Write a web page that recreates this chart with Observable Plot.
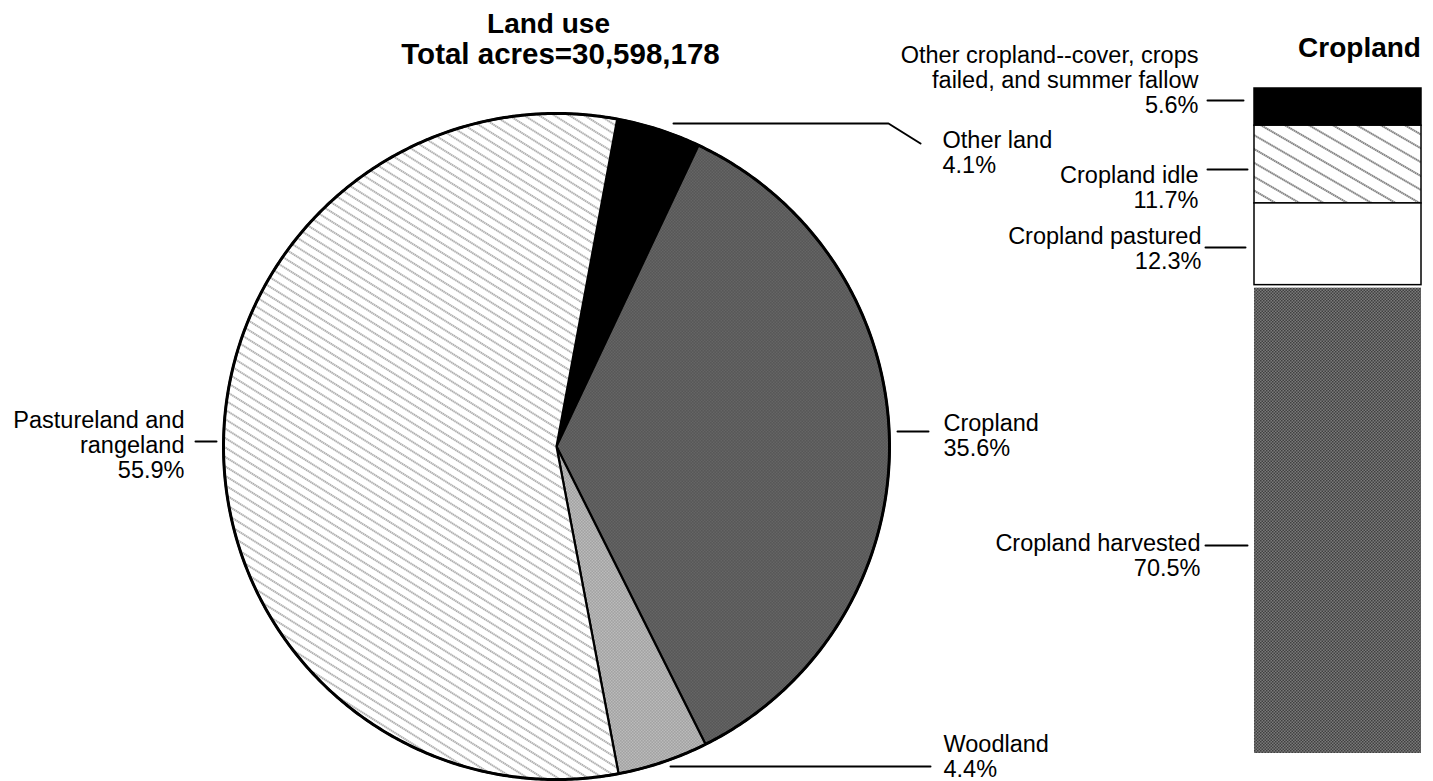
<!DOCTYPE html>
<html><head><meta charset="utf-8">
<script src="https://cdn.jsdelivr.net/npm/d3@7"></script>
<script src="https://cdn.jsdelivr.net/npm/@observablehq/plot@0.6"></script>
<style>
html,body{margin:0;padding:0;background:#fff;}
#chart{position:relative;width:1433px;height:781px;background:#fff;}
#chart svg{position:absolute;left:0;top:0;}
</style></head><body><div id="chart"></div>
<script>
// ---------------- data ----------------
const landTitle = "Land use";
const landSubtitle = "Total acres=30,598,178";
const landCategories = ["Other land", "Cropland", "Woodland", "Pastureland and rangeland"];
const landPercents = [4.1, 35.6, 4.4, 55.9];
const croplandTitle = "Cropland";
const croplandCategories = ["Other cropland--cover, crops failed, and summer fallow", "Cropland idle", "Cropland pastured", "Cropland harvested"];
const croplandPercents = [5.6, 11.7, 12.3, 70.5];

// ---------------- layout / style ----------------
const W = 1433, H = 781;
const cx = 556, cy = 446, r = 333;          // pie placement (px)
const startDeg = 10.5;                        // rotation of first slice
const LH = 25;                                // label line height (px)
const FS = 23.5;                              // label font size
const FONT = "'Liberation Sans', Arial, Helvetica, sans-serif";
const landFills = ["black", "url(#darkDots)", "url(#lightDots)", "url(#hatchPie)"];
const cropFills = ["black", "url(#hatchBar)", "white", "url(#darkDots)"];
const barX = [1254, 1421], barY = [88, 753];

// label placement: x, baseline of first line, anchor, words on first line (0 = no wrap)
const landLabelLayout = [
  {x: 942, y: 147, anchor: "start", wrap: 0},
  {x: 943, y: 430, anchor: "start", wrap: 0},
  {x: 943, y: 751, anchor: "start", wrap: 0},
  {x: 184, y: 427, anchor: "end", wrap: 2}
];
const cropLabelLayout = [
  {x: 1198, y: 62, anchor: "end", wrap: 3},
  {x: 1198, y: 182, anchor: "end", wrap: 0},
  {x: 1201, y: 243, anchor: "end", wrap: 0},
  {x: 1200, y: 550, anchor: "end", wrap: 0}
];
const leaderLayout = [
  [[673,123],[888,123],[920,143]],
  [[897,431],[928,431]],
  [[670,766],[930,766]],
  [[195,441],[216,441]],
  [[1207,100],[1243,100]],
  [[1207,169],[1247,169]],
  [[1205,247],[1245,247]],
  [[1205,545],[1247,545]]
];
const titleLayout = [
  {x: 548, y: 32, size: 28},
  {x: 560, y: 63, size: 29.5},
  {x: 1359, y: 56, size: 28}
];

// ---------------- helpers ----------------
const ux = px => (px - cx) / r;
const uy = py => (cy - py) / r;
function wrapLabel(cat, pct, n) {
  const w = cat.split(" ");
  const lines = n > 0 ? [w.slice(0, n).join(" "), w.slice(n).join(" ")] : [cat];
  lines.push(pct.toFixed(1) + "%");
  return lines;
}

// ---------------- pie geometry from data ----------------
const landData = landCategories.map((c, i) => ({cat: c, pct: landPercents[i], fill: landFills[i]}));
const a0 = startDeg * Math.PI / 180;
const arcs = d3.pie().sort(null).value(d => d.pct).startAngle(a0).endAngle(a0 + 2 * Math.PI)(landData);
const slicePolys = arcs.map(a => {
  const pts = [{x: 0, y: 0}];
  const steps = Math.max(2, Math.ceil((a.endAngle - a.startAngle) / (Math.PI / 360)));
  for (let k = 0; k <= steps; k++) {
    const t = a.startAngle + (a.endAngle - a.startAngle) * k / steps;
    pts.push({x: Math.sin(t), y: Math.cos(t)});
  }
  pts.push({x: 0, y: 0});
  return {fill: a.data.fill, pts};
});
const rim = d3.range(0, 721).map(k => ({x: Math.sin(k * Math.PI / 360), y: Math.cos(k * Math.PI / 360)}));

// labels
const labelRows = [];
landData.forEach((d, i) => {
  const L = landLabelLayout[i];
  const lines = wrapLabel(d.cat, d.pct, L.wrap);
  labelRows.push({text: lines.join("\n"), x: L.x, y: L.y + (lines.length - 1) * LH, anchor: L.anchor});
});
croplandCategories.forEach((c, i) => {
  const L = cropLabelLayout[i];
  const lines = wrapLabel(c, croplandPercents[i], L.wrap);
  labelRows.push({text: lines.join("\n"), x: L.x, y: L.y + (lines.length - 1) * LH, anchor: L.anchor});
});
const leaders = leaderLayout.flatMap((seg, id) => seg.map(([x, y]) => ({id, x: ux(x), y: uy(y)})));
const titles = [landTitle, landSubtitle, croplandTitle].map((t, i) => ({text: t, ...titleLayout[i]}));

// ---------------- pie plot ----------------
const pie = Plot.plot({
  width: W, height: H, margin: 0,
  style: {fontFamily: FONT, background: "white", overflow: "visible"},
  x: {domain: [-1, 1], range: [cx - r, cx + r], axis: null},
  y: {domain: [-1, 1], range: [cy + r, cy - r], axis: null},
  marks: [
    ...slicePolys.map(s => Plot.line(s.pts, {x: "x", y: "y", fill: s.fill, stroke: "black", strokeWidth: 2.2, strokeLinejoin: "round"})),
    Plot.line(rim, {x: "x", y: "y", stroke: "black", strokeWidth: 3}),
    Plot.line(leaders, {x: "x", y: "y", z: "id", stroke: "black", strokeWidth: 2}),
    Plot.text(labelRows.filter(d => d.anchor === "start"), {x: d => ux(d.x), y: d => uy(d.y), text: "text", textAnchor: "start", lineAnchor: "bottom", lineHeight: LH / FS, fontSize: FS, fill: "black"}),
    Plot.text(labelRows.filter(d => d.anchor === "end"), {x: d => ux(d.x), y: d => uy(d.y), text: "text", textAnchor: "end", lineAnchor: "bottom", lineHeight: LH / FS, fontSize: FS, fill: "black"}),
    ...titles.map(t => Plot.text([t], {x: d => ux(d.x), y: d => uy(d.y), text: "text", textAnchor: "middle", lineAnchor: "bottom", fontSize: t.size, fontWeight: "bold", fill: "black"}))
  ]
});

// patterns
const defs = document.createElementNS("http://www.w3.org/2000/svg", "defs");
defs.innerHTML = `
<pattern id="hatchPie" width="8" height="8" patternUnits="userSpaceOnUse" patternTransform="rotate(32)">
  <rect width="8" height="8" fill="white"/>
  <line x1="0" y1="4" x2="8" y2="4" stroke="#8c8c8c" stroke-width="1.5" stroke-dasharray="1.4 0.6"/>
</pattern>
<pattern id="hatchBar" width="12" height="12" patternUnits="userSpaceOnUse" patternTransform="rotate(30)">
  <rect width="12" height="12" fill="white"/>
  <line x1="0" y1="6" x2="12" y2="6" stroke="#7a7a7a" stroke-width="1.8" stroke-dasharray="1.5 0.5"/>
</pattern>
<pattern id="darkDots" width="3" height="3" patternUnits="userSpaceOnUse">
  <rect width="3" height="3" fill="#7a7a7a"/>
  <rect x="0" y="0" width="1.5" height="1.5" fill="#404040"/>
  <rect x="1.5" y="1.5" width="1.5" height="1.5" fill="#404040"/>
</pattern>
<pattern id="lightDots" width="3" height="3" patternUnits="userSpaceOnUse">
  <rect width="3" height="3" fill="#e0e0e0"/>
  <rect x="0" y="0" width="1.5" height="1.5" fill="#7a7a7a"/>
  <rect x="1.5" y="1.5" width="1.5" height="1.5" fill="#7a7a7a"/>
</pattern>`;
pie.insertBefore(defs, pie.firstChild);
document.getElementById("chart").appendChild(pie);

// ---------------- cropland bar plot ----------------
const cum = d3.cumsum(croplandPercents);
const total = cum[cum.length - 1];
const cropData = croplandCategories.map((c, i) => ({cat: c, y1: cum[i] - croplandPercents[i], y2: cum[i], fill: cropFills[i], i}));
const bar = Plot.plot({
  width: W, height: H, margin: 0,
  style: {background: "transparent", overflow: "visible"},
  x: {domain: [0, 1], range: barX, axis: null},
  y: {domain: [0, total], range: barY, axis: null},
  marks: [
    ...cropData.map(d => Plot.rect([d], {x1: 0, x2: 1, y1: "y1", y2: "y2", fill: d.fill,
      stroke: d.i === 3 ? "none" : "black", strokeWidth: 1.5, insetTop: d.i === 3 ? 3 : 0}))
  ]
});
document.getElementById("chart").appendChild(bar);
</script></body></html>
